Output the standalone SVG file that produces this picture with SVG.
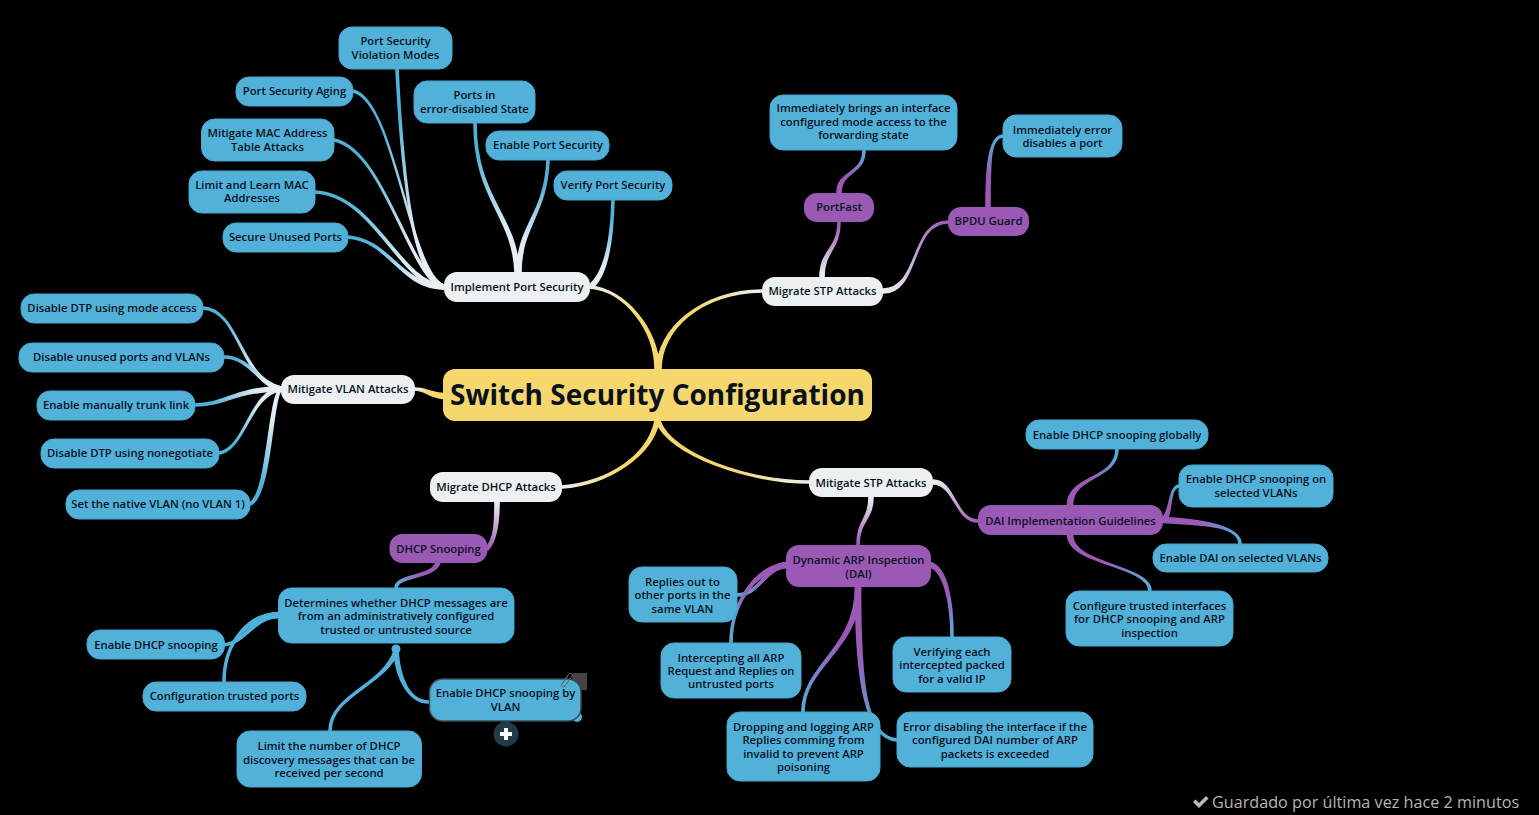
<svg xmlns="http://www.w3.org/2000/svg" width="1539" height="815" viewBox="0 0 1539 815">
<style>
text{font-family:"Open Sans","Noto Sans","Liberation Sans",sans-serif;font-size:11.3px;fill:#07121c;text-anchor:middle;font-weight:600}
.b rect{fill:#52b1d9;stroke:#4ba8d0;stroke-width:1}
.p rect{fill:#9b59b6}
.w rect{fill:#ecf0f1}
.r rect{fill:#f5d76e}
.c path{stroke-width:1.6;stroke-linejoin:round}
</style>
<defs>
<linearGradient id="yw"><stop offset="0" stop-color="#f5d76e"/><stop offset=".5" stop-color="#f5d76e"/><stop offset="1" stop-color="#ecf0f1"/></linearGradient>
<linearGradient id="wb"><stop offset="0" stop-color="#ecf0f1"/><stop offset=".3" stop-color="#dcebf2"/><stop offset=".8" stop-color="#52b1d9"/><stop offset="1" stop-color="#52b1d9"/></linearGradient>
<linearGradient id="wp"><stop offset="0" stop-color="#ecf0f1"/><stop offset="1" stop-color="#9b59b6"/></linearGradient>
<linearGradient id="pb"><stop offset="0" stop-color="#9b59b6"/><stop offset=".4" stop-color="#9b59b6"/><stop offset="1" stop-color="#52b1d9"/></linearGradient>
<linearGradient id="g1" href="#yw" gradientUnits="userSpaceOnUse" x1="657" y1="369" x2="590" y2="287"/>
<linearGradient id="g2" href="#yw" gradientUnits="userSpaceOnUse" x1="659" y1="369" x2="762" y2="291"/>
<linearGradient id="g3" href="#yw" gradientUnits="userSpaceOnUse" x1="443" y1="396" x2="415" y2="389"/>
<linearGradient id="g4" href="#yw" gradientUnits="userSpaceOnUse" x1="657" y1="421" x2="562" y2="487"/>
<linearGradient id="g5" href="#yw" gradientUnits="userSpaceOnUse" x1="658" y1="421" x2="809" y2="482"/>
<linearGradient id="a1" href="#wb" gradientUnits="userSpaceOnUse" x1="444" y1="287" x2="397" y2="69"/>
<linearGradient id="a2" href="#wb" gradientUnits="userSpaceOnUse" x1="444" y1="287" x2="353" y2="91"/>
<linearGradient id="a3" href="#wb" gradientUnits="userSpaceOnUse" x1="444" y1="287" x2="334" y2="140"/>
<linearGradient id="a4" href="#wb" gradientUnits="userSpaceOnUse" x1="444" y1="287" x2="315" y2="192"/>
<linearGradient id="a5" href="#wb" gradientUnits="userSpaceOnUse" x1="444" y1="287" x2="348" y2="237"/>
<linearGradient id="a6" href="#wb" gradientUnits="userSpaceOnUse" x1="517" y1="272" x2="475" y2="123"/>
<linearGradient id="a7" href="#wb" gradientUnits="userSpaceOnUse" x1="517" y1="272" x2="548" y2="160"/>
<linearGradient id="a8" href="#wb" gradientUnits="userSpaceOnUse" x1="590" y1="287" x2="613" y2="200"/>
<linearGradient id="s1" href="#wp" gradientUnits="userSpaceOnUse" x1="822" y1="277" x2="839" y2="222"/>
<linearGradient id="s2" href="#pb" gradientUnits="userSpaceOnUse" x1="839" y1="193" x2="864" y2="150"/>
<linearGradient id="s3" href="#wp" gradientUnits="userSpaceOnUse" x1="883" y1="291" x2="948" y2="222"/>
<linearGradient id="s4" href="#pb" gradientUnits="userSpaceOnUse" x1="988" y1="207" x2="1003" y2="136"/>
<linearGradient id="v1" href="#wb" gradientUnits="userSpaceOnUse" x1="281" y1="389" x2="203" y2="308"/>
<linearGradient id="v2" href="#wb" gradientUnits="userSpaceOnUse" x1="281" y1="389" x2="224" y2="357"/>
<linearGradient id="v3" href="#wb" gradientUnits="userSpaceOnUse" x1="281" y1="389" x2="195" y2="405"/>
<linearGradient id="v4" href="#wb" gradientUnits="userSpaceOnUse" x1="281" y1="389" x2="219" y2="453"/>
<linearGradient id="v5" href="#wb" gradientUnits="userSpaceOnUse" x1="281" y1="389" x2="250" y2="504"/>
<linearGradient id="d1" href="#wp" gradientUnits="userSpaceOnUse" x1="497" y1="502" x2="487" y2="549"/>
<linearGradient id="d2" href="#pb" gradientUnits="userSpaceOnUse" x1="438" y1="563" x2="396" y2="588"/>
<linearGradient id="m1" href="#wp" gradientUnits="userSpaceOnUse" x1="933" y1="482" x2="978" y2="521"/>
<linearGradient id="m2" href="#wp" gradientUnits="userSpaceOnUse" x1="871" y1="497" x2="858" y2="545"/>
<linearGradient id="m3" href="#pb" gradientUnits="userSpaceOnUse" x1="786" y1="565" x2="737" y2="595"/>
<linearGradient id="m4" href="#pb" gradientUnits="userSpaceOnUse" x1="786" y1="565" x2="731" y2="643"/>
<linearGradient id="m5" href="#pb" gradientUnits="userSpaceOnUse" x1="858" y1="587" x2="803" y2="712"/>
<linearGradient id="m6" href="#pb" gradientUnits="userSpaceOnUse" x1="858" y1="587" x2="897" y2="740"/>
<linearGradient id="m7" href="#pb" gradientUnits="userSpaceOnUse" x1="931" y1="565" x2="952" y2="637"/>
<linearGradient id="m8" href="#pb" gradientUnits="userSpaceOnUse" x1="1070" y1="505" x2="1117" y2="449"/>
<linearGradient id="m9" href="#pb" gradientUnits="userSpaceOnUse" x1="1163" y1="520" x2="1179" y2="486"/>
<linearGradient id="m10" href="#pb" gradientUnits="userSpaceOnUse" x1="1163" y1="520" x2="1240" y2="544"/>
<linearGradient id="m11" href="#pb" gradientUnits="userSpaceOnUse" x1="1070" y1="535" x2="1150" y2="591"/>
</defs>
<rect width="1539" height="815" fill="#000"/>
<g id="connectors" class="c">
<path fill="url(#g1)" stroke="url(#g1)" d="M659 369C659 330 625 289 590 286L590 288C625 291 655 330 655 369Z"/>
<path fill="url(#g2)" stroke="url(#g2)" d="M661 369C661 330 700 293 762 292L762 290C700 291 657 330 657 369Z"/>
<path fill="url(#g3)" stroke="url(#g3)" d="M443 393.500C430 392.500 425 388 415 388L415 390C425 390 430 397.500 443 398.500Z"/>
<path fill="url(#g4)" stroke="url(#g4)" d="M655 421C648 455 610 482 562 486L562 488C610 484 652 455 659 421Z"/>
<path fill="url(#g5)" stroke="url(#g5)" d="M656 421C668 455 750 483 809 483L809 481C750 481 672 455 660 421Z"/>
<path fill="url(#a1)" stroke="url(#a1)" d="M444 285C415 278 404 190 398 69L396 69C402 190 415 282 444 289Z"/>
<path fill="url(#a2)" stroke="url(#a2)" d="M444 285C410 273 395 99 353 90L353 92C395 101 410 277 444 289Z"/>
<path fill="url(#a3)" stroke="url(#a3)" d="M444 285C410 278 385 149 334 139L334 141C385 151 410 282 444 289Z"/>
<path fill="url(#a4)" stroke="url(#a4)" d="M444 285C400 283 375 194 315 191L315 193C375 196 400 287 444 289Z"/>
<path fill="url(#a5)" stroke="url(#a5)" d="M444 285C400 285 390 239 348 236L348 238C390 241 400 289 444 289Z"/>
<path fill="url(#a6)" stroke="url(#a6)" d="M519 272C517 215 476 200 476 123L474 123C474 200 513 215 515 272Z"/>
<path fill="url(#a7)" stroke="url(#a7)" d="M521 272C521 225 547 215 549 160L547 160C545 215 517 225 517 272Z"/>
<path fill="url(#a8)" stroke="url(#a8)" d="M591.500 288.500C607.500 276.500 613 240 614 200L612 200C611 240 604.500 273.500 588.500 285.500Z"/>
<path fill="url(#s1)" stroke="url(#s1)" d="M824 277C824 250 840 250 840 222L838 222C838 250 820 250 820 277Z"/>
<path fill="url(#s2)" stroke="url(#s2)" d="M841 193C841 170 865 175 865 150L863 150C863 175 837 170 837 193Z"/>
<path fill="url(#s3)" stroke="url(#s3)" d="M883 293C920 293 910 223 948 223L948 221C910 221 920 289 883 289Z"/>
<path fill="url(#s4)" stroke="url(#s4)" d="M990 207C990 160 990 138 1003 137L1003 135C990 136 986 160 986 207Z"/>
<path fill="url(#v1)" stroke="url(#v1)" d="M281 387C240 378 240 309 203 307L203 309C240 311 240 382 281 391Z"/>
<path fill="url(#v2)" stroke="url(#v2)" d="M281 387C260 383 250 356 224 356L224 358C250 358 260 387 281 391Z"/>
<path fill="url(#v3)" stroke="url(#v3)" d="M281 387C235 387 225 404 195 404L195 406C225 406 235 391 281 391Z"/>
<path fill="url(#v4)" stroke="url(#v4)" d="M281 387C250 390 245 449 219 452L219 454C245 451 250 394 281 391Z"/>
<path fill="url(#v5)" stroke="url(#v5)" d="M281 387C268 394 268 494 249.500 503L250.500 505C272 496 272 396 281 391Z"/>
<path fill="url(#d1)" stroke="url(#d1)" d="M495 502C495 525 494 539 486 548L488 550C496 541 499 525 499 502Z"/>
<path fill="url(#d2)" stroke="url(#d2)" d="M436 563C430 577 395 574 395 588L397 588C397 576 434 579 440 563Z"/>
<path fill="#52b1d9" stroke="#52b1d9" d="M279 612.500C255 612.500 245 642 224 644L224 646C245 644 255 617.500 279 617.500Z"/>
<path fill="#52b1d9" stroke="#52b1d9" d="M279 612.500C250 612.500 223 640 223 682L225 682C225 640 250 617.500 279 617.500Z"/>
<path fill="#52b1d9" stroke="#52b1d9" d="M394 651C383 685 329 695 329 731L331 731C331 695 387 685 398 651Z"/>
<path fill="#52b1d9" stroke="#52b1d9" d="M394 651C396 681 410 703 429 703L429 701C410 701 400 680 398 651Z"/>
<path fill="url(#m1)" stroke="url(#m1)" d="M933 484C955 484 955 522 978 522L978 520C955 520 955 480 933 480Z"/>
<path fill="url(#m2)" stroke="url(#m2)" d="M869 497C869 520 857 520 857 545L859 545C859 520 873 520 873 497Z"/>
<path fill="url(#m3)" stroke="url(#m3)" d="M786 562.500C765 564.500 760 594 737 594L737 596C760 596 765 569.500 786 567.500Z"/>
<path fill="url(#m4)" stroke="url(#m4)" d="M786 562.500C750 567.500 730 610 730 643L732 643C732 610 750 572.500 786 567.500Z"/>
<path fill="url(#m5)" stroke="url(#m5)" d="M855.500 587C855.500 650 802 665 802 712L804 712C804 665 860.500 650 860.500 587Z"/>
<path fill="url(#m6)" stroke="url(#m6)" d="M855.500 587C855.500 680 865 739 897 741L897 739C865 737 860.500 680 860.500 587Z"/>
<path fill="url(#m7)" stroke="url(#m7)" d="M931 567.500C943 572 951 600 951 637L953 637C953 600 947 568 931 562.500Z"/>
<path fill="url(#m8)" stroke="url(#m8)" d="M1072.500 505C1072.500 475 1118 480 1118 449L1116 449C1116 480 1067.500 475 1067.500 505Z"/>
<path fill="url(#m9)" stroke="url(#m9)" d="M1164.500 521.500C1173.500 516 1168 488 1179 487L1179 485C1168 486 1170.500 514 1161.500 518.500Z"/>
<path fill="url(#m10)" stroke="url(#m10)" d="M1163 522.500C1200 524.500 1239 525 1239 544L1241 544C1241 525 1200 519.500 1163 517.500Z"/>
<path fill="url(#m11)" stroke="url(#m11)" d="M1067.500 535C1067.500 565 1149 565 1149 591L1151 591C1151 565 1072.500 565 1072.500 535Z"/>
</g>
<g id="root" class="r"><rect x="443" y="369" width="429" height="52" rx="12"/><text x="657.5" y="405" style="font-size:28px;font-weight:700">Switch Security Configuration</text></g>
<g id="n-implement" class="w"><rect x="444" y="272" width="146" height="30" rx="13"/><text x="517" y="291">Implement Port Security</text></g>
<g id="n-migrate-stp" class="w"><rect x="762" y="277" width="121" height="29" rx="13"/><text x="822.5" y="295">Migrate STP Attacks</text></g>
<g id="n-vlan" class="w"><rect x="281" y="375" width="134" height="29" rx="13"/><text x="348" y="393">Mitigate VLAN Attacks</text></g>
<g id="n-migrate-dhcp" class="w"><rect x="430" y="472" width="132" height="30" rx="13"/><text x="496" y="491">Migrate DHCP Attacks</text></g>
<g id="n-mitigate-stp" class="w"><rect x="809" y="468" width="124" height="29" rx="13"/><text x="871" y="487">Mitigate STP Attacks</text></g>
<g id="n-portfast" class="p"><rect x="804" y="193" width="70" height="29" rx="13"/><text x="839" y="211">PortFast</text></g>
<g id="n-bpdu" class="p"><rect x="948" y="207" width="81" height="29" rx="13"/><text x="988.500" y="225">BPDU Guard</text></g>
<g id="n-dhcp-snoop" class="p"><rect x="389.500" y="534" width="98" height="29" rx="13"/><text x="438.500" y="553">DHCP Snooping</text></g>
<g id="n-dai" class="p"><rect x="786" y="545" width="145" height="42" rx="13"/><text x="858.500" y="564">Dynamic ARP Inspection</text><text x="858.500" y="578">(DAI)</text></g>
<g id="n-dai-guide" class="p"><rect x="978" y="505" width="185" height="30" rx="13"/><text x="1070.500" y="525">DAI Implementation Guidelines</text></g>
<g id="n1" class="b"><rect x="339" y="27" width="113" height="42" rx="13"/><text x="395.500" y="45">Port Security</text><text x="395.500" y="59">Violation Modes</text></g>
<g id="n2" class="b"><rect x="236" y="77" width="117" height="29" rx="13"/><text x="294.500" y="95">Port Security Aging</text></g>
<g id="n3" class="b"><rect x="201.500" y="119" width="132.500" height="42" rx="13"/><text x="267.500" y="137">Mitigate MAC Address</text><text x="267.500" y="151">Table Attacks</text></g>
<g id="n4" class="b"><rect x="189" y="171" width="126" height="42" rx="13"/><text x="252" y="189">Limit and Learn MAC</text><text x="252" y="202">Addresses</text></g>
<g id="n5" class="b"><rect x="223" y="223" width="125" height="29" rx="13"/><text x="285.500" y="241">Secure Unused Ports</text></g>
<g id="n6" class="b"><rect x="414" y="81" width="121" height="42" rx="13"/><text x="474.500" y="99">Ports in</text><text x="474.500" y="113">error-disabled State</text></g>
<g id="n7" class="b"><rect x="486" y="131" width="123" height="29" rx="13"/><text x="548" y="149">Enable Port Security</text></g>
<g id="n8" class="b"><rect x="554" y="171" width="118" height="29" rx="13"/><text x="613" y="189">Verify Port Security</text></g>
<g id="n9" class="b"><rect x="770" y="95" width="187" height="55" rx="13"/><text x="863.500" y="112">Immediately brings an interface</text><text x="863.500" y="126">configured mode access to the</text><text x="863.500" y="139">forwarding state</text></g>
<g id="n10" class="b"><rect x="1003" y="115" width="119" height="42" rx="13"/><text x="1062.500" y="134">Immediately error</text><text x="1062.500" y="147">disables a port</text></g>
<g id="n11" class="b"><rect x="21" y="294" width="182" height="29" rx="13"/><text x="112" y="312">Disable DTP using mode access</text></g>
<g id="n12" class="b"><rect x="19" y="343" width="205" height="29" rx="13"/><text x="121.500" y="361">Disable unused ports and VLANs</text></g>
<g id="n13" class="b"><rect x="37" y="391" width="158" height="29" rx="13"/><text x="116" y="409">Enable manually trunk link</text></g>
<g id="n14" class="b"><rect x="41" y="439" width="178" height="29" rx="13"/><text x="130" y="457">Disable DTP using nonegotiate</text></g>
<g id="n15" class="b"><rect x="66" y="490" width="184" height="29" rx="13"/><text x="158" y="508">Set the native VLAN (no VLAN 1)</text></g>
<g id="n16" class="b"><rect x="1026" y="420" width="182" height="29" rx="13"/><text x="1117" y="439">Enable DHCP snooping globally</text></g>
<g id="n17" class="b"><rect x="1179" y="465" width="154" height="42" rx="13"/><text x="1256" y="483">Enable DHCP snooping on</text><text x="1256" y="497">selected VLANs</text></g>
<g id="n18" class="b"><rect x="1153" y="544" width="175" height="28" rx="13"/><text x="1240.500" y="562">Enable DAI on selected VLANs</text></g>
<g id="n19" class="b"><rect x="1066" y="591" width="167" height="55" rx="13"/><text x="1149.500" y="610">Configure trusted interfaces</text><text x="1149.500" y="623">for DHCP snooping and ARP</text><text x="1149.500" y="637">inspection</text></g>
<g id="n20" class="b"><rect x="278.500" y="588" width="235.500" height="55" rx="13"/><text x="396" y="607">Determines whether DHCP messages are</text><text x="396" y="620">from an administratively configured</text><text x="396" y="634">trusted or untrusted source</text></g>
<g id="n21" class="b"><rect x="87" y="630" width="137.500" height="29" rx="13"/><text x="156" y="649">Enable DHCP snooping</text></g>
<g id="n22" class="b"><rect x="143" y="682" width="163" height="29" rx="13"/><text x="224.500" y="700">Configuration trusted ports</text></g>
<g id="n23" class="b"><rect x="237" y="731" width="184.500" height="56" rx="13"/><text x="329" y="750">Limit the number of DHCP</text><text x="329" y="764">discovery messages that can be</text><text x="329" y="777">received per second</text></g>
<g id="n24-toggle"><circle cx="396" cy="649" r="4.500" fill="#52b1d9"/></g>
<g id="n24-back">
<circle cx="577" cy="717" r="5" fill="#52b1d9"/>
<path d="M572 674l2-1h13v17h-14z" fill="#444"/>
</g>
<g id="n24" class="b"><rect x="429.500" y="679" width="151.500" height="42" rx="13" style="stroke:#3b4a55;stroke-width:1.500"/><text x="505.500" y="697">Enable DHCP snooping by</text><text x="505.500" y="711">VLAN</text></g>
<path id="n24-clip" d="M562 684l6-9c2-3 5-1 4 1l-7 10c-2 2-5 0-3-2l6-8" fill="none" stroke="#666" stroke-width="1"/>
<g id="add"><circle cx="506" cy="734" r="12.500" fill="#233a48"/><path d="M504 728h4v4h4v4h-4v4h-4v-4h-4v-4h4z" fill="#fff"/></g>
<g id="n25" class="b"><rect x="629" y="567" width="108" height="55" rx="13"/><text x="682.500" y="586">Replies out to</text><text x="682.500" y="599">other ports in the</text><text x="682.500" y="613">same VLAN</text></g>
<g id="n26" class="b"><rect x="661" y="643" width="140" height="55" rx="13"/><text x="731" y="662">Intercepting all ARP</text><text x="731" y="675">Request and Replies on</text><text x="731" y="688">untrusted ports</text></g>
<g id="n27" class="b"><rect x="727" y="712" width="153" height="69" rx="13"/><text x="803.500" y="731">Dropping and logging ARP</text><text x="803.500" y="744">Replies comming from</text><text x="803.500" y="758">invalid to prevent ARP</text><text x="803.500" y="771">poisoning</text></g>
<g id="n28" class="b"><rect x="897" y="712" width="196" height="55" rx="13"/><text x="995" y="731">Error disabling the interface if the</text><text x="995" y="744">configured DAI number of ARP</text><text x="995" y="758">packets is exceeded</text></g>
<g id="n29" class="b"><rect x="893" y="637" width="118" height="55" rx="13"/><text x="952" y="656">Verifying each</text><text x="952" y="669">intercepted packed</text><text x="952" y="683">for a valid IP</text></g>
<g id="status">
<path d="M1193 802l2.500-2.500 3.500 3.500 7-7 2.500 2.500-9.500 9.500z" fill="#bbb"/>
<text x="1212" y="808" style="font-size:16.200px;fill:#b5b5b5;text-anchor:start;font-weight:400">Guardado por última vez hace 2 minutos</text>
</g>
</svg>
